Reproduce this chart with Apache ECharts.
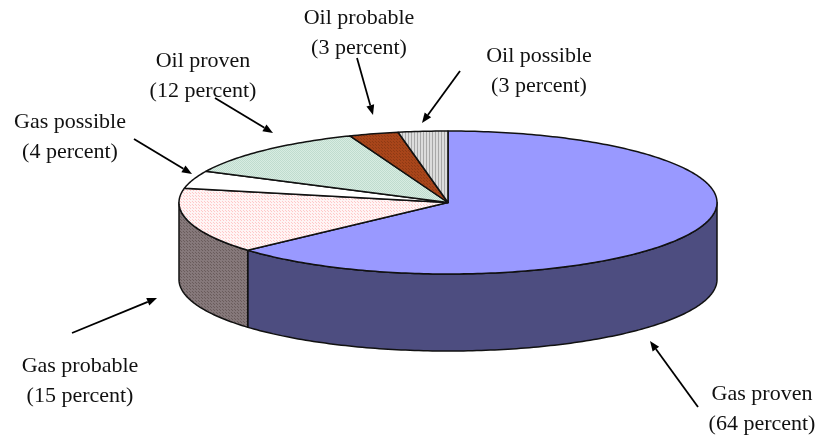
<!DOCTYPE html>
<html>
<head>
<meta charset="utf-8">
<style>html,body{margin:0;padding:0;background:#fff}#chart{width:820px;height:439px}</style>
<script src="https://cdn.jsdelivr.net/npm/echarts@6/dist/echarts.min.js"></script>
</head>
<body>
<div id="chart"></div>
<script>
// Reserve categories and their shares, clockwise from twelve o'clock
const categories = ['Gas proven', 'Gas probable', 'Gas possible', 'Oil proven', 'Oil probable', 'Oil possible'];
const shares = [64, 15, 4, 12, 3, 3];

// Disc geometry
const disc = { cx: 448, cy: 202.5, rx: 269, ry: 71.5, depth: 77 };

// Where each callout sits: label anchor, then arrow tail and tip
const callouts = [
  { x: 762, y: 379, from: [698, 407], to: [650, 341] },
  { x: 80, y: 351, from: [72, 333], to: [157, 298] },
  { x: 70, y: 107, from: [134, 139], to: [192, 174] },
  { x: 203, y: 46, from: [215, 98], to: [273, 133] },
  { x: 359, y: 3, from: [357, 58], to: [373, 115] },
  { x: 539, y: 41, from: [460, 71], to: [422, 123] }
];

// Small repeating tiles for the hatched fills
function tile(w, h, bg, ink, cells) {
  const c = document.createElement('canvas');
  c.width = w; c.height = h;
  const g = c.getContext('2d');
  g.fillStyle = bg; g.fillRect(0, 0, w, h);
  g.fillStyle = ink;
  cells.forEach(p => g.fillRect(p[0], p[1], p[2] || 1, p[3] || 1));
  return { image: c, repeat: 'repeat' };
}
const topFills = [
  '#9999FF',
  tile(3, 3, '#FFF4F4', '#FFC8C8', [[0, 0], [1, 1]]),
  '#FFFFFF',
  tile(2, 2, '#D8ECE2', '#BFDCCE', [[0, 0], [1, 1]]),
  tile(3, 3, '#A8451A', '#8F3A14', [[0, 0], [1, 1]]),
  tile(3, 1, '#DCDCDC', '#A8A8A8', [[0, 0]])
];
const sideFills = [
  '#4D4D80',
  tile(3, 3, '#85787A', '#6A5C5C', [[0, 0], [1, 1]]),
  '#808080',
  '#667366',
  '#54220D',
  '#666666'
];

const total = shares.reduce((a, b) => a + b, 0);
const rim = t => [disc.cx + disc.rx * Math.sin(t), disc.cy - disc.ry * Math.cos(t)];

// Samples the rim between two angles (radians, clockwise from the top)
function arc(a, b) {
  const n = Math.max(2, Math.ceil(Math.abs(b - a) * 60));
  const pts = [];
  for (let i = 0; i <= n; i++) pts.push(rim(a + (b - a) * i / n));
  return pts;
}

function renderSlice(params) {
  const i = params.dataIndex;
  const before = shares.slice(0, i).reduce((a, b) => a + b, 0);
  const a = before / total * 2 * Math.PI;
  const b = (before + shares[i]) / total * 2 * Math.PI;
  const children = [];

  // Outer wall: only the front half of the rim faces the viewer
  const wa = Math.max(a, Math.PI / 2), wb = Math.min(b, 3 * Math.PI / 2);
  if (wb > wa) {
    const edge = arc(wa, wb);
    const lower = edge.map(p => [p[0], p[1] + disc.depth]).reverse();
    children.push({
      type: 'polygon',
      shape: { points: edge.concat(lower) },
      style: { fill: sideFills[i], stroke: '#111', lineWidth: 1.5, lineJoin: 'round' }
    });
  }
  // Top face
  children.push({
    type: 'polygon',
    shape: { points: [[disc.cx, disc.cy]].concat(arc(a, b)) },
    style: { fill: topFills[i], stroke: '#111', lineWidth: 1.5, lineJoin: 'round' }
  });
  return { type: 'group', children };
}

// Callout label plus a straight arrow
function calloutGraphics(i) {
  const c = callouts[i];
  const [x0, y0] = c.from, [x1, y1] = c.to;
  const ang = Math.atan2(y1 - y0, x1 - x0);
  const len = 10, half = 4;
  const bx = x1 - len * Math.cos(ang), by = y1 - len * Math.sin(ang);
  const nx = -Math.sin(ang) * half, ny = Math.cos(ang) * half;
  return [
    {
      type: 'text', x: c.x, y: c.y,
      style: {
        text: categories[i] + '\n(' + shares[i] + ' percent)',
        font: '22px "Liberation Serif", serif',
        lineHeight: 30, fill: '#111', align: 'center', verticalAlign: 'top'
      }
    },
    { type: 'line', shape: { x1: x0, y1: y0, x2: bx, y2: by }, style: { stroke: '#000', lineWidth: 1.8 } },
    { type: 'polygon', shape: { points: [[x1, y1], [bx + nx, by + ny], [bx - nx, by - ny]] }, style: { fill: '#000' } }
  ];
}

const chart = echarts.init(document.getElementById('chart'), null, { renderer: 'canvas' });
chart.setOption({
  animation: false,
  backgroundColor: '#fff',
  series: [{
    type: 'custom',
    coordinateSystem: 'none',
    renderItem: renderSlice,
    data: categories.map((name, i) => ({ name, value: shares[i] }))
  }],
  graphic: categories.flatMap((_, i) => calloutGraphics(i))
});
</script>
</body>
</html>
